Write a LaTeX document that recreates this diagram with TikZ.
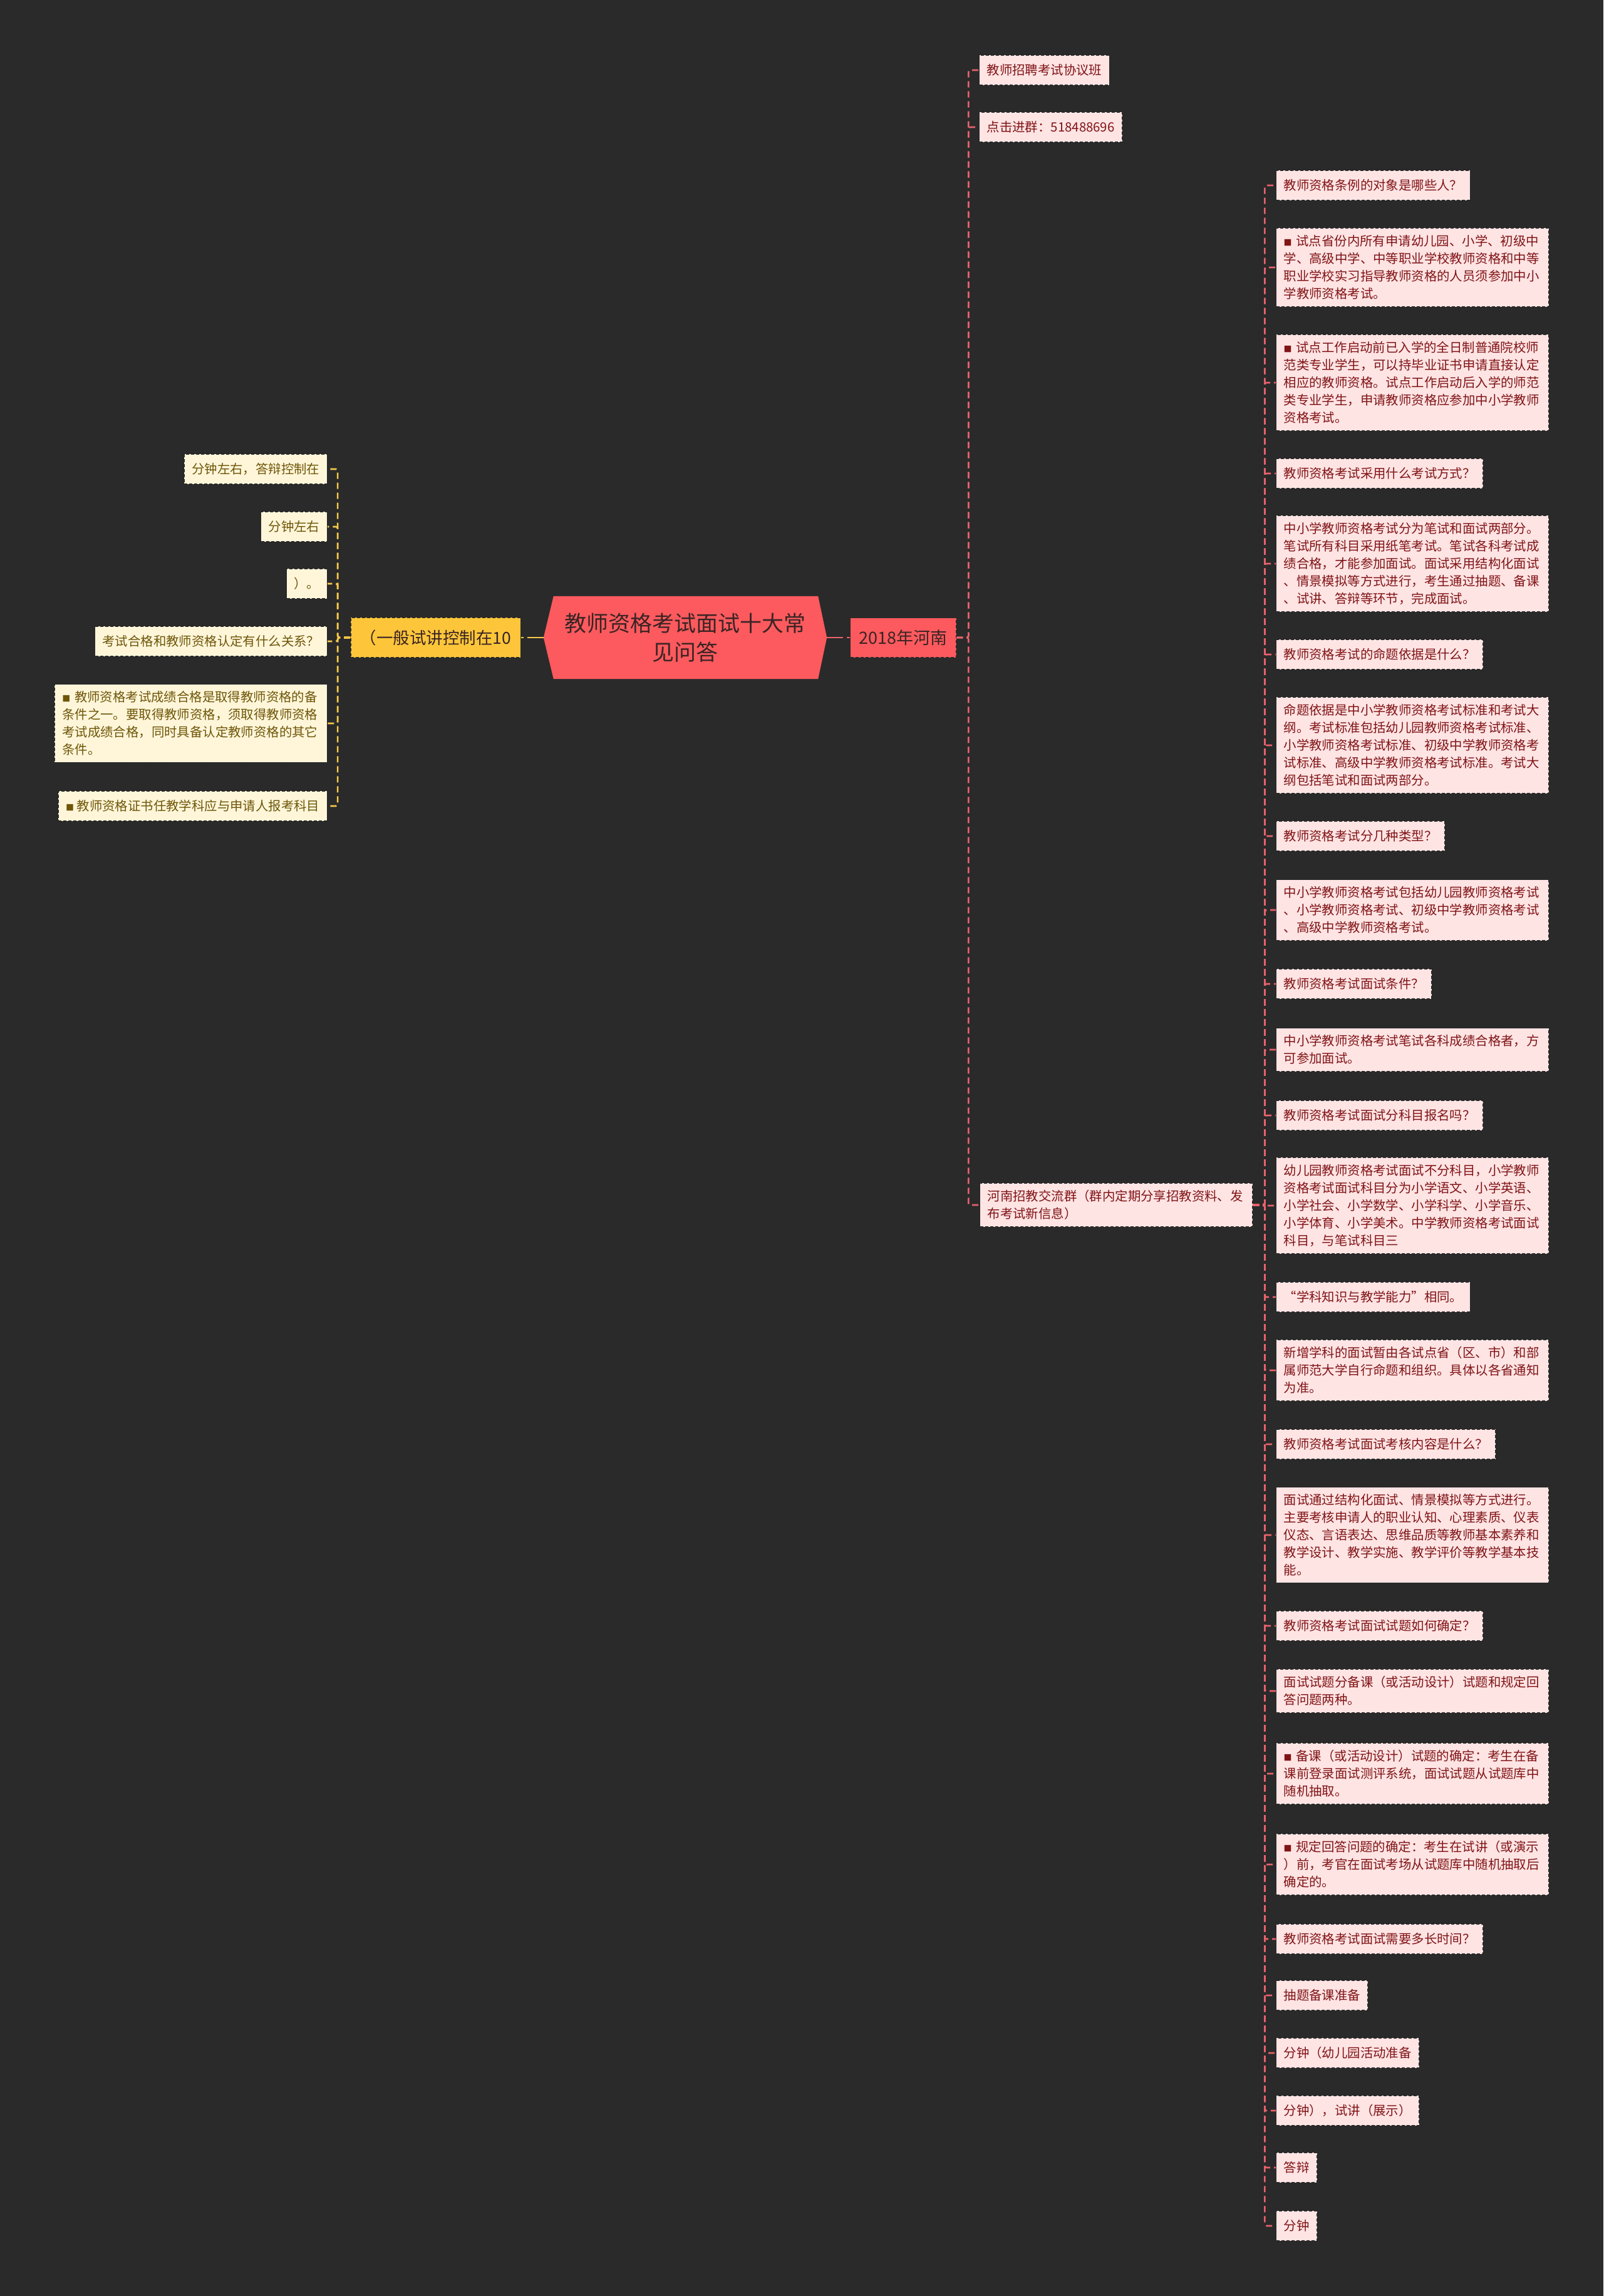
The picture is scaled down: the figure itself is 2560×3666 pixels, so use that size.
\documentclass[tikz,border=0pt]{standalone}
\usepackage{fontspec}
\usepackage{tikz}
\usetikzlibrary{positioning,calc,backgrounds}
\newfontfamily\cjk{Noto Sans CJK SC}
\definecolor{bgdark}{RGB}{42,42,42}
\definecolor{rootred}{RGB}{252,90,94}
\definecolor{roottxt}{RGB}{58,36,36}
\definecolor{pinkfill}{RGB}{255,228,228}
\definecolor{pinktxt}{RGB}{128,20,22}
\definecolor{redline}{RGB}{232,98,108}
\definecolor{goldfill}{RGB}{253,198,58}
\definecolor{creamfill}{RGB}{255,246,218}
\definecolor{creamtxt}{RGB}{110,86,8}
\definecolor{goldline}{RGB}{246,200,74}
\definecolor{edgedark}{RGB}{40,40,40}
\newcommand{\sqbul}{{\fontsize{13}{13}\selectfont ■}~}
\tikzset{
  leafbox/.style={font=\cjk\fontsize{20.4}{28}\selectfont, draw=edgedark,
      dash pattern=on 5pt off 3pt, line width=1.4pt, inner xsep=12pt,
      inner ysep=11pt, minimum height=48pt, align=left},
  pinkleaf/.style={leafbox, fill=pinkfill, text=pinktxt},
  creamleaf/.style={leafbox, fill=creamfill, text=creamtxt},
  widebox/.style={text width=411pt},
  rootbox/.style={font=\cjk\fontsize{27}{32}\selectfont, fill=rootred, text=roottxt,
      draw=edgedark, dash pattern=on 5pt off 3pt, line width=1.4pt,
      minimum width=169pt, minimum height=63pt},
  goldbox/.style={font=\cjk\fontsize{26.5}{32}\selectfont, fill=goldfill, text=roottxt,
      draw=edgedark, dash pattern=on 5pt off 3pt, line width=1.4pt,
      inner xsep=15pt, minimum height=64pt},
  rcon/.style={redline, line width=2.6pt, dash pattern=on 10pt off 6pt, rounded corners=3pt},
  ycon/.style={goldline, line width=2.6pt, dash pattern=on 10pt off 6pt, rounded corners=3pt},
}

\begin{document}
\begin{tikzpicture}[x=1pt, y=-1pt]
\useasboundingbox (0,0) rectangle (2560,3666);
%---- centre
\node[font=\cjk\fontsize{35}{46}\selectfont, text=roottxt, align=center,
      minimum width=452pt, minimum height=132pt] (ctr) at (1094,1018)
      {教师资格考试面试十大常\\见问答};
\begin{scope}[on background layer]
  \fill[bgdark] (0,0) rectangle (2560,3666);
  \fill[rootred] (ctr.west) -- ($(ctr.north west)+(16,0)$) -- ($(ctr.north east)+(-14,0)$)
       -- (ctr.east) -- ($(ctr.south east)+(-14,0)$) -- ($(ctr.south west)+(16,0)$) -- cycle;
\end{scope}
\node[rootbox, anchor=west] (yr) at (1357,1018) {2018年河南};
\node[goldbox, anchor=east] (ymain) at (832,1018) {（一般试讲控制在10};
\draw[rcon, dash pattern=on 26pt off 6pt] (ctr.east) -- (yr.west);
\draw[ycon, dash pattern=on 26pt off 6pt] (ctr.west) -- (ymain.east);

%---- left branch
\node[creamleaf, anchor=east] (yl1) at (523,749) {分钟左右，答辩控制在};
\node[creamleaf, anchor=east] (yl2) at (523,841) {分钟左右};
\node[creamleaf, anchor=east] (yl3) at (523,932) {）。};
\node[creamleaf, anchor=east] (yl4) at (523,1024) {考试合格和教师资格认定有什么关系？};
\node[creamleaf, widebox, anchor=east] (yl5) at (523,1155)
     {\sqbul 教师资格考试成绩合格是取得教师资格的备\\条件之一。要取得教师资格，须取得教师资格\\考试成绩合格，同时具备认定教师资格的其它\\条件。};
\node[creamleaf, anchor=east] (yl6) at (523,1287) {\sqbul 教师资格证书任教学科应与申请人报考科目};
\draw[ycon] (ymain.west) -- ++(-20,0) |- (yl1.east); \draw[ycon] (ymain.west) -- ++(-20,0) |- (yl2.east);
\draw[ycon] (ymain.west) -- ++(-20,0) |- (yl3.east); \draw[ycon] (ymain.west) -- ++(-20,0) |- (yl4.east);
\draw[ycon] (ymain.west) -- ++(-20,0) |- (yl5.east); \draw[ycon] (ymain.west) -- ++(-20,0) |- (yl6.east);

%---- right branch, first level
\node[pinkleaf, anchor=west] (ad1) at (1563,112) {教师招聘考试协议班};
\node[pinkleaf, anchor=west] (ad2) at (1563,203) {点击进群：518488696};
\node[pinkleaf, widebox, anchor=west] (hn) at (1564,1924)
     {河南招教交流群（群内定期分享招教资料、发\\布考试新信息）};
\draw[rcon] (yr.east) -- ++(19,0) |- (ad1.west); \draw[rcon] (yr.east) -- ++(19,0) |- (ad2.west);
\draw[rcon] (yr.east) -- ++(19,0) |- (hn.west);

%---- questions and answers
\node[pinkleaf, anchor=west] (f1) at (2037,296) {教师资格条例的对象是哪些人？};
\node[pinkleaf, widebox, anchor=west] (f2) at (2037,427)
     {\sqbul 试点省份内所有申请幼儿园、小学、初级中\\学、高级中学、中等职业学校教师资格和中等\\职业学校实习指导教师资格的人员须参加中小\\学教师资格考试。};
\node[pinkleaf, widebox, anchor=west] (f3) at (2037,611)
     {\sqbul 试点工作启动前已入学的全日制普通院校师\\范类专业学生，可以持毕业证书申请直接认定\\相应的教师资格。试点工作启动后入学的师范\\类专业学生，申请教师资格应参加中小学教师\\资格考试。};
\node[pinkleaf, anchor=west] (f4) at (2037,756) {教师资格考试采用什么考试方式？};
\node[pinkleaf, widebox, anchor=west] (f5) at (2037,900)
     {中小学教师资格考试分为笔试和面试两部分。\\笔试所有科目采用纸笔考试。笔试各科考试成\\绩合格，才能参加面试。面试采用结构化面试\\、情景模拟等方式进行，考生通过抽题、备课\\、试讲、答辩等环节，完成面试。};
\node[pinkleaf, anchor=west] (f6) at (2037,1045) {教师资格考试的命题依据是什么？};
\node[pinkleaf, widebox, anchor=west] (f7) at (2037,1190)
     {命题依据是中小学教师资格考试标准和考试大\\纲。考试标准包括幼儿园教师资格考试标准、\\小学教师资格考试标准、初级中学教师资格考\\试标准、高级中学教师资格考试标准。考试大\\纲包括笔试和面试两部分。};
\node[pinkleaf, anchor=west] (f8) at (2037,1335) {教师资格考试分几种类型？};
\node[pinkleaf, widebox, anchor=west] (f9) at (2037,1453)
     {中小学教师资格考试包括幼儿园教师资格考试\\、小学教师资格考试、初级中学教师资格考试\\、高级中学教师资格考试。};
\node[pinkleaf, anchor=west] (f10) at (2037,1571) {教师资格考试面试条件？};
\node[pinkleaf, widebox, anchor=west] (f11) at (2037,1676)
     {中小学教师资格考试笔试各科成绩合格者，方\\可参加面试。};
\node[pinkleaf, anchor=west] (f12) at (2037,1781) {教师资格考试面试分科目报名吗？};
\node[pinkleaf, widebox, anchor=west] (f13) at (2037,1925)
     {幼儿园教师资格考试面试不分科目，小学教师\\资格考试面试科目分为小学语文、小学英语、\\小学社会、小学数学、小学科学、小学音乐、\\小学体育、小学美术。中学教师资格考试面试\\科目，与笔试科目三};
\node[pinkleaf, anchor=west] (f14) at (2037,2071) {“学科知识与教学能力”相同。};
\node[pinkleaf, widebox, anchor=west] (f15) at (2037,2188)
     {新增学科的面试暂由各试点省（区、市）和部\\属师范大学自行命题和组织。具体以各省通知\\为准。};
\node[pinkleaf, anchor=west] (f16) at (2037,2306) {教师资格考试面试考核内容是什么？};
\node[pinkleaf, widebox, anchor=west] (f17) at (2037,2451)
     {面试通过结构化面试、情景模拟等方式进行。\\主要考核申请人的职业认知、心理素质、仪表\\仪态、言语表达、思维品质等教师基本素养和\\教学设计、教学实施、教学评价等教学基本技\\能。};
\node[pinkleaf, anchor=west] (f18) at (2037,2596) {教师资格考试面试试题如何确定？};
\node[pinkleaf, widebox, anchor=west] (f19) at (2037,2700)
     {面试试题分备课（或活动设计）试题和规定回\\答问题两种。};
\node[pinkleaf, widebox, anchor=west] (f20) at (2037,2832)
     {\sqbul 备课（或活动设计）试题的确定：考生在备\\课前登录面试测评系统，面试试题从试题库中\\随机抽取。};
\node[pinkleaf, widebox, anchor=west] (f21) at (2037,2977)
     {\sqbul 规定回答问题的确定：考生在试讲（或演示\\）前，考官在面试考场从试题库中随机抽取后\\确定的。};
\node[pinkleaf, anchor=west] (f22) at (2037,3096) {教师资格考试面试需要多长时间？};
\node[pinkleaf, anchor=west] (f23) at (2037,3186) {抽题备课准备};
\node[pinkleaf, anchor=west] (f24) at (2037,3278) {分钟（幼儿园活动准备};
\node[pinkleaf, anchor=west] (f25) at (2037,3370) {分钟），试讲（展示）};
\node[pinkleaf, anchor=west] (f26) at (2037,3461) {答辩};
\node[pinkleaf, anchor=west] (f27) at (2037,3554) {分钟};
\draw[rcon] (hn.east) -- ++(19,0) |- (f1.west); \draw[rcon] (hn.east) -- ++(19,0) |- (f2.west);
\draw[rcon] (hn.east) -- ++(19,0) |- (f3.west); \draw[rcon] (hn.east) -- ++(19,0) |- (f4.west);
\draw[rcon] (hn.east) -- ++(19,0) |- (f5.west); \draw[rcon] (hn.east) -- ++(19,0) |- (f6.west);
\draw[rcon] (hn.east) -- ++(19,0) |- (f7.west); \draw[rcon] (hn.east) -- ++(19,0) |- (f8.west);
\draw[rcon] (hn.east) -- ++(19,0) |- (f9.west); \draw[rcon] (hn.east) -- ++(19,0) |- (f10.west);
\draw[rcon] (hn.east) -- ++(19,0) |- (f11.west); \draw[rcon] (hn.east) -- ++(19,0) |- (f12.west);
\draw[rcon] (hn.east) -- ++(19,0) |- (f13.west); \draw[rcon] (hn.east) -- ++(19,0) |- (f14.west);
\draw[rcon] (hn.east) -- ++(19,0) |- (f15.west); \draw[rcon] (hn.east) -- ++(19,0) |- (f16.west);
\draw[rcon] (hn.east) -- ++(19,0) |- (f17.west); \draw[rcon] (hn.east) -- ++(19,0) |- (f18.west);
\draw[rcon] (hn.east) -- ++(19,0) |- (f19.west); \draw[rcon] (hn.east) -- ++(19,0) |- (f20.west);
\draw[rcon] (hn.east) -- ++(19,0) |- (f21.west); \draw[rcon] (hn.east) -- ++(19,0) |- (f22.west);
\draw[rcon] (hn.east) -- ++(19,0) |- (f23.west); \draw[rcon] (hn.east) -- ++(19,0) |- (f24.west);
\draw[rcon] (hn.east) -- ++(19,0) |- (f25.west); \draw[rcon] (hn.east) -- ++(19,0) |- (f26.west);
\draw[rcon] (hn.east) -- ++(19,0) |- (f27.west);
\end{tikzpicture}
\end{document}
